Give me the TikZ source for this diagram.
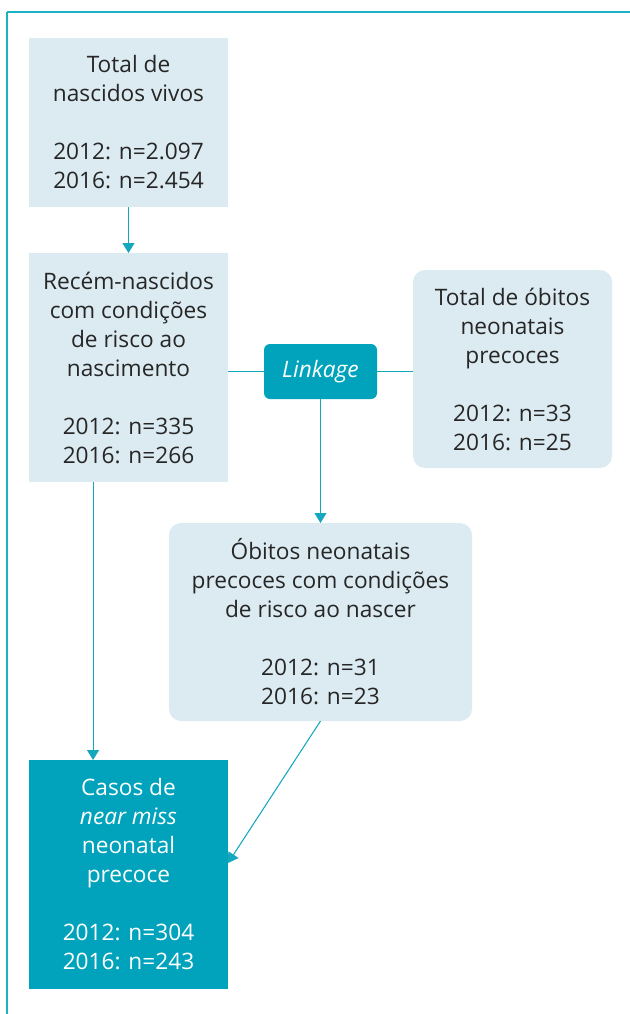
\documentclass[tikz,border=0pt]{standalone}
\usepackage{fontspec}
\setmainfont{Open Sans}
\usetikzlibrary{arrows.meta}
\definecolor{frameblue}{HTML}{1BB2C6}
\definecolor{lineblue}{HTML}{14A8BE}
\definecolor{boxblue}{HTML}{DCEBF2}
\definecolor{teal}{HTML}{00A3BB}
\definecolor{txt}{HTML}{262626}
\begin{document}
\begin{tikzpicture}[x=0.75pt, y=-0.75pt,
        >={Triangle[width=9pt,length=7.5pt]},
        every node/.style={font=\fontsize{17}{21.75}\selectfont, align=center, inner sep=0pt, outer sep=0pt},
        lightbox/.style={fill=boxblue, text=txt, minimum width=149.25pt},
        darkbox/.style={fill=teal, text=white, minimum width=149.25pt},
        conn/.style={draw=lineblue, line width=0.8pt}]
    \useasboundingbox (0,0) rectangle (630,1014);
    % frame
    \draw[frameblue, line width=1.5pt] (7,12) -- (630,12);
    \draw[frameblue, line width=1pt] (7,12) -- (7,1014);
    % boxes
    \node[lightbox, minimum height=126.75pt] (nascidos) at (128.5,122.5)
        {Total de\\nascidos vivos\\[21.75pt]2012: n=2.097\\2016: n=2.454};
    \node[lightbox, minimum height=171.75pt] (risco) at (128.5,367.5)
        {Recém-nascidos\\com condições\\de risco ao\\nascimento\\[21.75pt]2012: n=335\\2016: n=266};
    \node[lightbox, rounded corners=9pt, minimum height=148.5pt] (obitos) at (512.5,369)
        {Total de óbitos\\neonatais\\precoces\\[21.75pt]2012: n=33\\2016: n=25};
    \node[fill=teal, text=white, rounded corners=4.5pt, minimum width=84.75pt, minimum height=41.25pt] (link) at (320.5,371.5)
        {\itshape Linkage};
    \node[lightbox, rounded corners=9pt, minimum width=227.25pt, minimum height=148.5pt] (obitosrisco) at (320.5,622)
        {Óbitos neonatais\\precoces com condições\\de risco ao nascer\\[21.75pt]2012: n=31\\2016: n=23};
    \node[darkbox, minimum height=171.75pt] (nearmiss) at (128.5,874.5)
        {Casos de\\\itshape near miss\\neonatal\\precoce\\[21.75pt]2012: n=304\\2016: n=243};
    % connectors
    \draw[conn, ->] (nascidos.south) -- (risco.north);
    \draw[conn] (link.west) -- (link.west -| risco.east);
    \draw[conn] (link.east) -- (link.east -| obitos.west);
    \draw[conn, ->] (link.south) -- (obitosrisco.north);
    \draw[conn, ->] ([xshift=-26.6pt]risco.south) -- ([xshift=-26.6pt]nearmiss.north);
    \draw[conn, ->] (obitosrisco.south) -- ([yshift=8.6pt]nearmiss.east);
\end{tikzpicture}
\end{document}
